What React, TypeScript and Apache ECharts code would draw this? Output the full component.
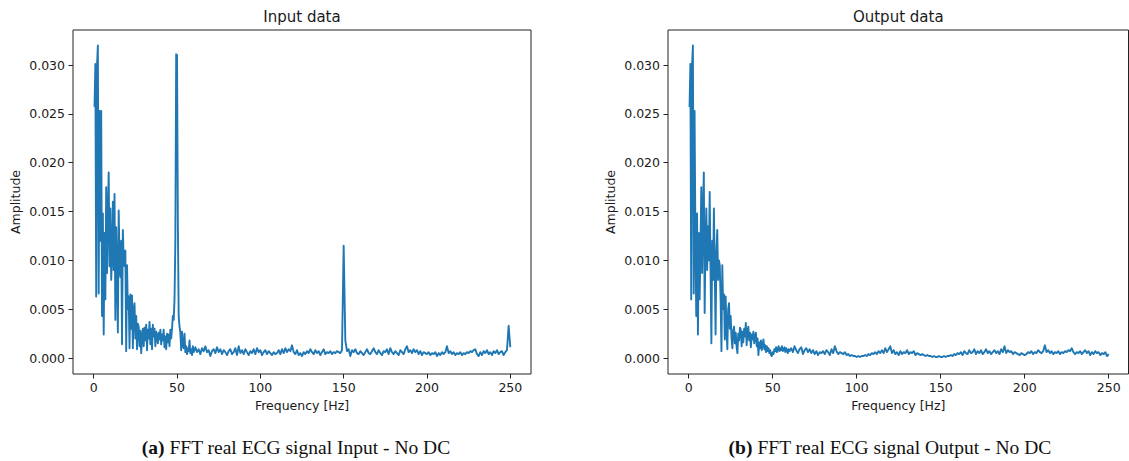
import React, { useEffect, useRef } from "react";
import * as echarts from "echarts";

// ---- Data (amplitudes) ----
// Low band: 0.5 Hz bins from 0.5 Hz to 60 Hz
const inputLow = [
  0.0257, 0.0301, 0.0063, 0.0300, 0.0320, 0.0066, 0.0253, 0.0120, 0.0253, 0.0043,
  0.0148, 0.0024, 0.0128, 0.0060, 0.0175, 0.0087, 0.0150, 0.0190, 0.0094, 0.0153,
  0.0080, 0.0104, 0.0160, 0.0090, 0.0168, 0.0039, 0.0134, 0.0090, 0.0026, 0.0151,
  0.0100, 0.0083, 0.0120, 0.0014, 0.0131, 0.0100, 0.0094, 0.0110, 0.0007, 0.0095,
  0.0050, 0.0063, 0.0010, 0.0065, 0.0030, 0.0064, 0.0010, 0.0050, 0.0056, 0.0020,
  0.0043, 0.0009, 0.0035, 0.0032, 0.0012, 0.0028, 0.0005, 0.0022, 0.0030, 0.0012,
  0.0031, 0.0018, 0.0034, 0.0008, 0.0029, 0.0020, 0.0037, 0.0014, 0.0030, 0.0009,
  0.0034, 0.0022, 0.0030, 0.0012, 0.0027, 0.0022, 0.0015, 0.0026, 0.0019, 0.0029,
  0.0014, 0.0024, 0.0018, 0.0029, 0.0011, 0.0022, 0.0009, 0.0025, 0.0016, 0.0024,
  0.0012, 0.0029, 0.0020, 0.0030, 0.0043, 0.0039, 0.0060, 0.0120, 0.0311, 0.0310,
  0.0140, 0.0043, 0.0032, 0.0026, 0.0008, 0.0027, 0.0012, 0.0010, 0.0025, 0.0006,
  0.0012, 0.0004, 0.0010, 0.0007, 0.0018, 0.0005, 0.0009, 0.0003, 0.0012, 0.0006,
];
// High band: 1 Hz bins from 61 Hz to 250 Hz
const inputHigh = [
  0.0011, 0.0006, 0.0009, 0.0004, 0.0010, 0.0007, 0.0012, 0.0006, 0.0008, 0.0002,
  0.0007, 0.0009, 0.0005, 0.0011, 0.0006, 0.0009, 0.0004, 0.0008, 0.0006, 0.0003,
  0.0007, 0.0009, 0.0004, 0.0006, 0.0010, 0.0003, 0.0012, 0.0005, 0.0008, 0.0004,
  0.0009, 0.0006, 0.0003, 0.0007, 0.0005, 0.0009, 0.0004, 0.0010, 0.0006, 0.0008,
  0.0003, 0.0006, 0.0008, 0.0004, 0.0007, 0.0005, 0.0003, 0.0006, 0.0004, 0.0005,
  0.0008, 0.0004, 0.0009, 0.0005, 0.0010, 0.0006, 0.0009, 0.0007, 0.0013, 0.0006,
  0.0004, 0.0008, 0.0003, 0.0005, 0.0002, 0.0006, 0.0004, 0.0007, 0.0005, 0.0009,
  0.0006, 0.0004, 0.0008, 0.0005, 0.0007, 0.0003, 0.0006, 0.0009, 0.0004, 0.0006,
  0.0005, 0.0007, 0.0004, 0.0006, 0.0005, 0.0007, 0.0006, 0.0005, 0.0008, 0.0115,
  0.0018, 0.0007, 0.0009, 0.0002, 0.0008, 0.0006, 0.0009, 0.0005, 0.0004, 0.0007,
  0.0005, 0.0003, 0.0006, 0.0009, 0.0005, 0.0004, 0.0007, 0.0010, 0.0006, 0.0004,
  0.0008, 0.0005, 0.0003, 0.0007, 0.0006, 0.0009, 0.0004, 0.0010, 0.0006, 0.0004,
  0.0007, 0.0005, 0.0003, 0.0008, 0.0006, 0.0004, 0.0009, 0.0012, 0.0006, 0.0008,
  0.0005, 0.0009, 0.0006, 0.0008, 0.0004, 0.0007, 0.0003, 0.0006, 0.0005, 0.0004,
  0.0006, 0.0003, 0.0005, 0.0004, 0.0006, 0.0002, 0.0005, 0.0003, 0.0006, 0.0004,
  0.0006, 0.0012, 0.0005, 0.0007, 0.0004, 0.0006, 0.0003, 0.0005, 0.0004, 0.0006,
  0.0003, 0.0005, 0.0004, 0.0006, 0.0005, 0.0007, 0.0006, 0.0008, 0.0009, 0.0004,
  0.0002, 0.0006, 0.0003, 0.0007, 0.0005, 0.0008, 0.0004, 0.0006, 0.0003, 0.0007,
  0.0005, 0.0008, 0.0004, 0.0006, 0.0007, 0.0003, 0.0006, 0.0008, 0.0033, 0.0011,
];
const outputLow = [
  0.0257, 0.0301, 0.0060, 0.0300, 0.0320, 0.0066, 0.0253, 0.0120, 0.0043, 0.0148,
  0.0024, 0.0128, 0.0060, 0.0110, 0.0175, 0.0087, 0.0150, 0.0190, 0.0046, 0.0120,
  0.0153, 0.0090, 0.0135, 0.0100, 0.0170, 0.0090, 0.0015, 0.0120, 0.0080, 0.0153,
  0.0090, 0.0024, 0.0110, 0.0131, 0.0080, 0.0100, 0.0095, 0.0060, 0.0007, 0.0095,
  0.0050, 0.0065, 0.0019, 0.0063, 0.0030, 0.0009, 0.0050, 0.0056, 0.0030, 0.0043,
  0.0020, 0.0010, 0.0028, 0.0032, 0.0015, 0.0026, 0.0012, 0.0005, 0.0025, 0.0018,
  0.0031, 0.0029, 0.0012, 0.0027, 0.0016, 0.0030, 0.0022, 0.0036, 0.0013, 0.0028,
  0.0032, 0.0018, 0.0026, 0.0011, 0.0024, 0.0019, 0.0027, 0.0015, 0.0022, 0.0026,
  0.0012, 0.0020, 0.0003, 0.0016, 0.0010, 0.0018, 0.0008, 0.0014, 0.0019, 0.0009,
  0.0013, 0.0006, 0.0012, 0.0007, 0.0010, 0.0005, 0.0008, 0.0003, 0.0002, 0.0006,
  0.0004, 0.0009, 0.0007, 0.0011, 0.0006, 0.0009, 0.0012, 0.0007, 0.0010, 0.0008,
  0.0012, 0.0007, 0.0009, 0.0011, 0.0006, 0.0010, 0.0008, 0.0005, 0.0009, 0.0007,
];
const outputHigh = [
  0.0010, 0.0006, 0.0012, 0.0008, 0.0005, 0.0009, 0.0011, 0.0004, 0.0008, 0.0010,
  0.0006, 0.0009, 0.0005, 0.0008, 0.0004, 0.0007, 0.0003, 0.0006, 0.0005, 0.0007,
  0.0004, 0.0008, 0.0006, 0.0003, 0.0009, 0.0005, 0.0012, 0.0007, 0.0004, 0.0006,
  0.0005, 0.0004, 0.0006, 0.0003, 0.0004, 0.0002, 0.0003, 0.0002, 0.0002, 0.0001,
  0.0002, 0.0001, 0.0002, 0.0002, 0.0003, 0.0002, 0.0004, 0.0003, 0.0005, 0.0004,
  0.0006, 0.0004, 0.0007, 0.0005, 0.0008, 0.0005, 0.0010, 0.0006, 0.0009, 0.0012,
  0.0005, 0.0008, 0.0004, 0.0006, 0.0003, 0.0007, 0.0004, 0.0006, 0.0005, 0.0008,
  0.0004, 0.0006, 0.0005, 0.0007, 0.0003, 0.0005, 0.0004, 0.0003, 0.0004, 0.0003,
  0.0002, 0.0003, 0.0002, 0.0002, 0.0001, 0.0002, 0.0001, 0.0001, 0.0002, 0.0001,
  0.0001, 0.0002, 0.0001, 0.0002, 0.0002, 0.0003, 0.0002, 0.0004, 0.0003, 0.0005,
  0.0004, 0.0006, 0.0003, 0.0007, 0.0005, 0.0004, 0.0008, 0.0005, 0.0006, 0.0009,
  0.0004, 0.0007, 0.0005, 0.0008, 0.0004, 0.0006, 0.0009, 0.0005, 0.0007, 0.0004,
  0.0006, 0.0008, 0.0005, 0.0007, 0.0004, 0.0009, 0.0006, 0.0012, 0.0005, 0.0008,
  0.0006, 0.0007, 0.0004, 0.0006, 0.0005, 0.0004, 0.0003, 0.0005, 0.0004, 0.0003,
  0.0004, 0.0006, 0.0005, 0.0007, 0.0004, 0.0006, 0.0005, 0.0008, 0.0006, 0.0005,
  0.0007, 0.0013, 0.0006, 0.0008, 0.0005, 0.0007, 0.0004, 0.0006, 0.0005, 0.0007,
  0.0004, 0.0006, 0.0005, 0.0007, 0.0006, 0.0008, 0.0007, 0.0010, 0.0006, 0.0004,
  0.0006, 0.0005, 0.0007, 0.0004, 0.0006, 0.0008, 0.0005, 0.0007, 0.0003, 0.0006,
  0.0004, 0.0007, 0.0005, 0.0006, 0.0003, 0.0005, 0.0004, 0.0006, 0.0002, 0.0004,
];

const xTicks = [0, 50, 100, 150, 200, 250];
const yTicks = [0, 0.005, 0.01, 0.015, 0.02, 0.025, 0.03];
const titles = ["Input data", "Output data"];
const captionTags = ["(a)", "(b)"];
const captionTexts = [
  " FFT real ECG signal Input - No DC",
  " FFT real ECG signal Output - No DC",
];
const xLabel = "Frequency [Hz]";
const yLabel = "Amplitude";

// FFT bin centres
const lowBins: number[] = inputLow.map((_, i) => 0.5 + i * 0.5);
const highBins: number[] = inputHigh.map((_, i) => 61 + i);

const toPairs = (low: number[], high: number[]) => [
  ...low.map((v, i) => [lowBins[i], v]),
  ...high.map((v, i) => [highBins[i], v]),
];

const FONT = "DejaVu Sans";
const TEXT = "#1a1a1a";
const LINE = "#1f77b4";

// Panel geometry (pixels): frame box and inner data box (0..250 Hz, 0..0.030)
const panels = [
  { frameL: 73, frameR: 531, innerL: 93.7, innerR: 510.3 },
  { frameL: 668, frameR: 1128.5, innerL: 688.7, innerR: 1108.7 },
];
const FRAME_T = 30;
const FRAME_B = 374;
const INNER_T = 65;
const INNER_B = 358;

export default function App() {
  const ref = useRef<HTMLDivElement>(null);
  useEffect(() => {
    if (!ref.current) return;
    const chart = echarts.init(ref.current, undefined, { renderer: "svg" });
    const series = [toPairs(inputLow, inputHigh), toPairs(outputLow, outputHigh)];

    const graphic: any[] = [];
    panels.forEach((p, i) => {
      const cx = (p.frameL + p.frameR) / 2;
      graphic.push({
        type: "rect",
        shape: { x: p.frameL, y: FRAME_T, width: p.frameR - p.frameL, height: FRAME_B - FRAME_T },
        style: { fill: "none", stroke: "#222", lineWidth: 1 },
        z: 10,
        silent: true,
      });
      graphic.push({
        type: "text",
        x: cx,
        y: 17,
        style: { text: titles[i], font: `15px "${FONT}"`, fill: TEXT, align: "center", verticalAlign: "middle" },
      });
      graphic.push({
        type: "text",
        x: cx,
        y: 405,
        style: { text: xLabel, font: `12.5px "${FONT}"`, fill: TEXT, align: "center", verticalAlign: "middle" },
      });
      graphic.push({
        type: "text",
        x: p.frameL - 58,
        y: (FRAME_T + FRAME_B) / 2,
        rotation: Math.PI / 2,
        style: { text: yLabel, font: `12.5px "${FONT}"`, fill: TEXT, align: "center", verticalAlign: "middle" },
      });
      graphic.push({
        type: "text",
        x: i === 0 ? 296 : 890,
        y: 447,
        style: {
          text: `{b|${captionTags[i]}}{n|${captionTexts[i]}}`,
          align: "center",
          verticalAlign: "middle",
          rich: {
            b: { font: `bold 19.5px "Liberation Serif"`, fill: "#111" },
            n: { font: `19.5px "Liberation Serif"`, fill: "#111" },
          },
        },
      });
    });

    const option: any = {
      animation: false,
      grid: panels.map((p) => ({
        left: p.innerL,
        width: p.innerR - p.innerL,
        top: INNER_T,
        height: INNER_B - INNER_T,
        containLabel: false,
      })),
      xAxis: panels.map((p, i) => ({
        type: "value",
        gridIndex: i,
        min: xTicks[0],
        max: xTicks[xTicks.length - 1],
        interval: 50,
        offset: FRAME_B - INNER_B,
        axisLine: { show: true, onZero: false, lineStyle: { opacity: 0 } },
        axisTick: { show: true, length: 4.5, lineStyle: { color: "#222", width: 1 } },
        axisLabel: { margin: 7, color: TEXT, fontFamily: FONT, fontSize: 12.5 },
        splitLine: { show: false },
      })),
      yAxis: panels.map((p, i) => ({
        type: "value",
        gridIndex: i,
        min: yTicks[0],
        max: yTicks[yTicks.length - 1],
        interval: 0.005,
        offset: p.innerL - p.frameL,
        axisLine: { show: true, onZero: false, lineStyle: { opacity: 0 } },
        axisTick: { show: true, length: 4.5, lineStyle: { color: "#222", width: 1 } },
        axisLabel: {
          margin: 8,
          color: TEXT,
          fontFamily: FONT,
          fontSize: 12.5,
          formatter: (v: number) => v.toFixed(3),
        },
        splitLine: { show: false },
      })),
      series: series.map((d, i) => ({
        type: "line",
        xAxisIndex: i,
        yAxisIndex: i,
        data: d,
        showSymbol: false,
        symbol: "none",
        clip: false,
        lineStyle: { color: LINE, width: 1.9, join: "round" },
      })),
      graphic,
    };
    chart.setOption(option);
    return () => chart.dispose();
  }, []);
  return (
    <div
      ref={ref}
      style={{ position: "absolute", left: 0, top: 0, width: 1129, height: 461, background: "#fff" }}
    />
  );
}
